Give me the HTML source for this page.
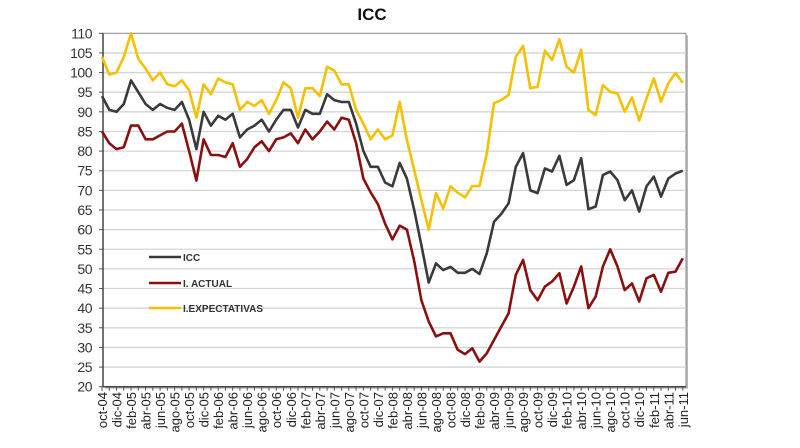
<!DOCTYPE html>
<html><head><meta charset="utf-8"><style>
html,body{margin:0;padding:0;background:#fff;width:800px;height:448px;overflow:hidden}
svg{display:block}
text{font-family:"Liberation Sans",Arial,sans-serif}
</style></head><body>
<svg id="c" width="800" height="448" xmlns="http://www.w3.org/2000/svg"></svg>
<script>
var icc=[94,90.5,90,92,98,95,92,90.5,92,91,90.5,92.5,88,80.5,90,86.5,89,88,89.5,83.5,85.5,86.5,88,85,88,90.5,90.5,86,90.5,89.5,89.5,94.5,93,92.5,92.5,87,80,76,76,72,71,77,73,65,56,46.5,51.4,49.7,50.5,49,49,50,48.7,54,62,64,66.7,76,79.5,70,69.3,75.6,74.8,78.8,71.4,72.6,78.2,65.2,65.9,73.9,74.8,72.6,67.5,70,64.6,71,73.5,68.4,73,74.3,75];
var act=[85,82,80.5,81,86.5,86.5,83,83,84,85,85,87,80,72.5,83,79,79,78.5,82,76,78,81,82.5,80,83,83.5,84.5,82,85.5,83,85,87.5,85.5,88.5,88,82,73,69.5,66.5,61.5,57.5,61,60,52,42,36.6,32.8,33.6,33.6,29.4,28.3,29.8,26.4,28.5,31.9,35.3,38.7,48.5,52.3,44.6,42,45.5,46.8,48.9,41.2,45.5,50.6,40,43,50.6,55,50.6,44.6,46.3,41.7,47.6,48.5,44.2,49,49.3,52.7];
var exp=[104,99.5,100,104,110,103.5,101,98,100,97,96.5,98,95.5,88.5,97,94.5,98.5,97.5,97,90.5,92.5,91.5,93,89.5,93,97.5,96,88.5,96,96,94,101.5,100.5,97,97,90.5,87,83,85.5,83,84,92.5,82.8,75.2,67.5,60,69.3,65.4,71,69.4,68.2,71.1,71.1,79.4,92.2,93,94.3,104,106.8,96,96.4,105.6,103.2,108.5,101.5,100,105.8,90.5,89.2,96.8,95.1,94.7,90,93.7,87.8,93.4,98.5,92.6,97.3,99.9,97.4];
var X0=102,DX=7.26,L=103,R=686,T=33.3,B=386.7;
function Y(v){return B-(v-20)*(B-T)/90}
function X(i){return X0+DX*i}
var s='';
s+='<text x="372" y="20" font-size="17" font-weight="bold" text-anchor="middle" fill="#111">ICC</text>';
s+='<rect x="'+(L+2)+'" y="'+(T+2)+'" width="'+(R-L)+'" height="'+(B-T)+'" fill="#bbb"/>';
s+='<rect x="'+L+'" y="'+T+'" width="'+(R-L)+'" height="'+(B-T)+'" fill="#fff" stroke="#888" stroke-width="1"/>';
for(var v=20;v<=110;v+=5){var y=Y(v);
 if(v>20&&v<110)s+='<line x1="'+L+'" x2="'+R+'" y1="'+y+'" y2="'+y+'" stroke="#d4d4d4" stroke-width="1.3"/>';
 s+='<line x1="'+(L-4)+'" x2="'+L+'" y1="'+y+'" y2="'+y+'" stroke="#555"/>';
 s+='<text x="92" y="'+(y+5)+'" font-size="14" text-anchor="end" fill="#333" letter-spacing="-0.5">'+v+'</text>';}
s+='<line x1="'+L+'" x2="'+L+'" y1="'+T+'" y2="'+B+'" stroke="#444" stroke-width="1.5"/>';
s+='<line x1="'+L+'" x2="'+R+'" y1="'+B+'" y2="'+B+'" stroke="#444" stroke-width="1.5"/>';
var mn=['ene','feb','mar','abr','may','jun','jul','ago','sep','oct','nov','dic'];
for(var i=0;i<81;i++){var x=X(i);
 s+='<line x1="'+x+'" x2="'+x+'" y1="'+B+'" y2="'+(B+4)+'" stroke="#555"/>';
 if(i%2==0){var m=(9+i)%12,yr=4+Math.floor((9+i)/12);
  var lab=mn[m]+'-'+(yr<10?'0':'')+yr;
  s+='<text transform="translate('+(x+5)+',392) rotate(-90)" font-size="13" text-anchor="end" fill="#222">'+lab+'</text>';}}
function pl(d,c){var p=d.map(function(v,i){return X(i).toFixed(1)+','+Y(v).toFixed(1)}).join(' ');
 return '<polyline points="'+p+'" fill="none" stroke="'+c+'" stroke-width="2.6" stroke-linejoin="round"/>';}
s+=pl(exp,'#f5c000')+pl(icc,'#3a3a3a')+pl(act,'#8a1010');
var lg=[['ICC','#3a3a3a',257],['I. ACTUAL','#8a1010',283],['I.EXPECTATIVAS','#f5c000',308]];
lg.forEach(function(g){s+='<line x1="149" x2="181" y1="'+g[2]+'" y2="'+g[2]+'" stroke="'+g[1]+'" stroke-width="2.6"/>';
 s+='<text x="183" y="'+(g[2]+4)+'" font-size="10" font-weight="bold" fill="#333">'+g[0]+'</text>';});
document.getElementById('c').innerHTML=s;
</script>
</body></html>
